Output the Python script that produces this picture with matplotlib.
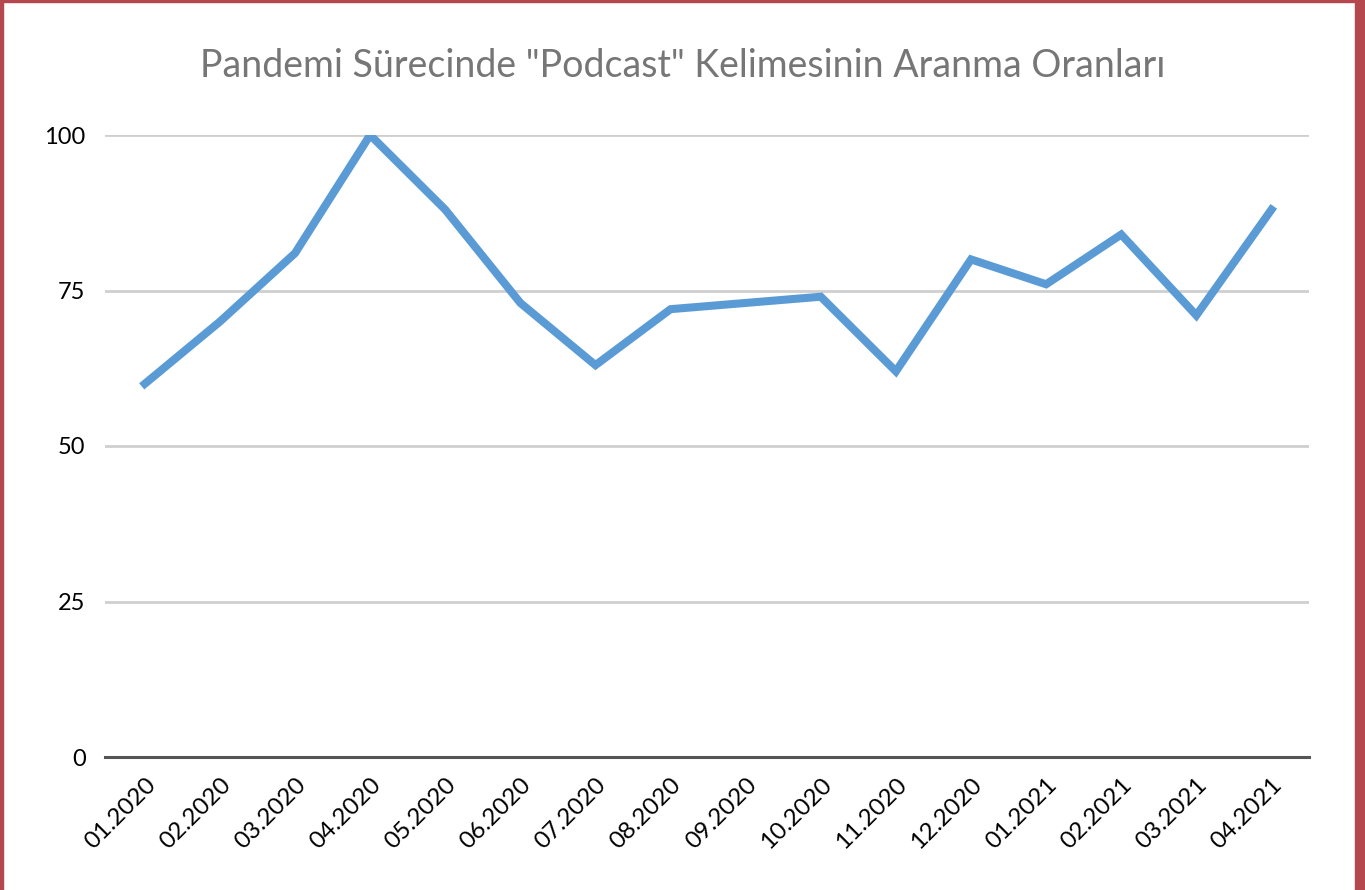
import numpy as np
import matplotlib.pyplot as plt
from matplotlib.patches import Rectangle

plt.rcParams['font.family'] = ['Lato', 'DejaVu Sans']

months = ['01.2020', '02.2020', '03.2020', '04.2020', '05.2020', '06.2020',
          '07.2020', '08.2020', '09.2020', '10.2020', '11.2020', '12.2020',
          '01.2021', '02.2021', '03.2021', '04.2021']
values = [60, 70, 81, 100, 88, 73, 63, 72, 73, 74, 62, 80, 76, 84, 71, 88]
yticks = [0, 25, 50, 75, 100]

fig = plt.figure(figsize=(13.65, 8.9), dpi=100)
ax = fig.add_axes([105 / 1365, 1 - 757 / 890, (1309 - 105) / 1365, (757 - 135) / 890])

x = np.arange(len(months))
ax.plot(x, values, color='#5B9BD5', lw=5.8, solid_joinstyle='miter', zorder=3)

ax.set_xlim(-0.53, len(months) - 0.5)
ax.set_ylim(0, 100)
ax.set_yticks(yticks)
ax.set_xticks(x)
ax.set_xticklabels(months, rotation=45, ha='right', rotation_mode='anchor')
ax.grid(axis='y', color='#CFCFCF', lw=2)
ax.set_axisbelow(True)
for s in ['top', 'right', 'left']:
    ax.spines[s].set_visible(False)
ax.spines['bottom'].set_color('#555555')
ax.spines['bottom'].set_linewidth(2.2)
ax.spines['bottom'].set_zorder(4)
ax.tick_params(axis='both', length=0, colors='black')
ax.tick_params(axis='y', pad=14, labelsize=17)
ax.tick_params(axis='x', pad=12, labelsize=17.5)

fig.text(0.5, 1 - 66 / 890, 'Pandemi Sürecinde "Podcast" Kelimesinin Aranma Oranları',
         ha='center', va='center', fontsize=27, color='#767676')

# red frame around the chart
fig.patches.append(Rectangle((0, 0), 3 / 1365, 1, transform=fig.transFigure,
                             color='#B5474F', zorder=10))
fig.patches.append(Rectangle((1355 / 1365, 0), 10 / 1365, 1, transform=fig.transFigure,
                             color='#B5474F', zorder=10))
fig.patches.append(Rectangle((0, 1 - 1.5 / 890), 1, 1.5 / 890, transform=fig.transFigure,
                             color='#B5474F', zorder=10))

fig.savefig('out.png', dpi=100)
